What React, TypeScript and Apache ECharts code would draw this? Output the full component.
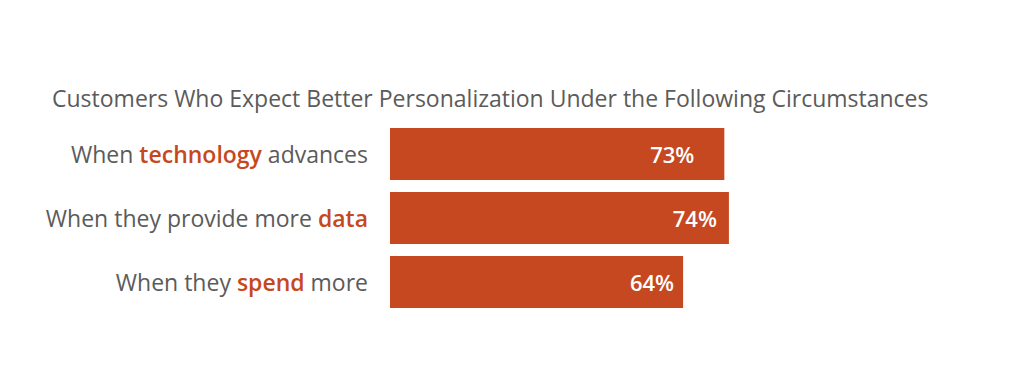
import React, { useEffect, useRef } from "react";
import * as echarts from "echarts";

const titleText = "Customers Who Expect Better Personalization Under the Following Circumstances";
const labelPrefixes = ["When", "When they provide more", "When they"];
const labelHighlights = ["technology", "data", "spend"];
const labelSuffixes = ["advances", "", "more"];
const values = [73, 74, 64];
const labelInsets = [30, 12, 9];

const ORANGE = "#C64820";
const GRAY = "#5B5B5B";

export default function App() {
  const ref = useRef<HTMLDivElement>(null);
  useEffect(() => {
    if (!ref.current) return;
    const chart = echarts.init(ref.current, null, { renderer: "svg" });
    const categories = labelPrefixes.map((p, i) => {
      let s = `{a|${p} }{b|${labelHighlights[i]}}`;
      if (labelSuffixes[i]) s += `{a| ${labelSuffixes[i]}}`;
      return s;
    });
    chart.setOption({
      animation: false,
      backgroundColor: "#ffffff",
      title: {
        text: titleText,
        left: 52,
        top: 86,
        padding: 0,
        textStyle: {
          fontFamily: "Open Sans",
          fontSize: 23,
          fontWeight: "normal",
          color: GRAY,
        },
      },
      grid: { left: 390, right: 176, top: 122, bottom: 72 },
      xAxis: {
        type: "value",
        min: 0,
        max: 100,
        show: false,
      },
      yAxis: {
        type: "category",
        inverse: true,
        data: categories,
        axisLine: { show: false },
        axisTick: { show: false },
        axisLabel: {
          margin: 22,
          formatter: (v: string) => v,
          rich: {
            a: { fontFamily: "Open Sans", fontSize: 23, color: GRAY },
            b: { fontFamily: "Open Sans", fontSize: 23, color: ORANGE, fontWeight: 600 },
          },
        },
      },
      series: [
        {
          type: "bar",
          barWidth: "81%",
          itemStyle: { color: ORANGE },
          data: values.map((v, i) => ({
            value: v,
            label: { distance: labelInsets[i] },
          })),
          label: {
            show: true,
            position: "insideRight",
            formatter: "{c}%",
            color: "#ffffff",
            fontFamily: "Open Sans",
            fontSize: 22,
            fontWeight: 600,
          },
        },
      ],
    });
    return () => chart.dispose();
  }, []);
  return (
    <div
      ref={ref}
      style={{ position: "fixed", left: 0, top: 0, width: 1024, height: 386 }}
    />
  );
}
